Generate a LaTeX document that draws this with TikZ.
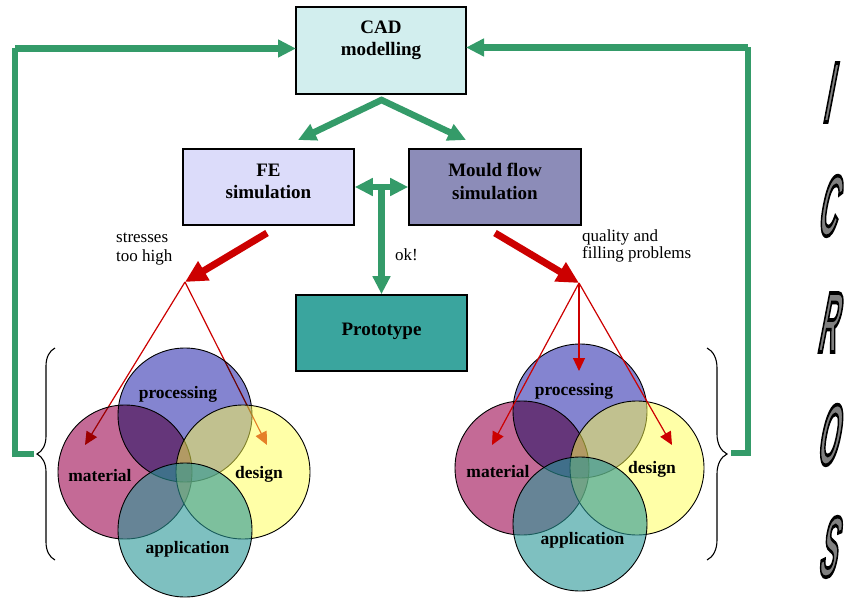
\documentclass[tikz,border=0pt]{standalone}
\usepackage{fontspec}
\usepackage{graphicx}
\setmainfont{Liberation Serif}
\newfontfamily\icfont[FakeStretch=0.78, FakeSlant=0.5]{Liberation Sans}
\usetikzlibrary{arrows.meta,decorations.pathreplacing}
\definecolor{grn}{RGB}{52,155,105}
\definecolor{rd}{RGB}{204,0,0}
\definecolor{cadc}{RGB}{210,238,238}
\definecolor{fec}{RGB}{220,220,250}
\definecolor{mfc}{RGB}{140,140,184}
\definecolor{prc}{RGB}{58,165,158}
\definecolor{cproc}{RGB}{132,132,208}
\definecolor{cmat}{RGB}{196,106,150}
\definecolor{cdes}{RGB}{255,255,80}
\definecolor{capp}{RGB}{40,150,150}
\definecolor{icgray}{RGB}{128,128,128}
\tikzset{
  box/.style={draw=black, line width=1.6pt, inner sep=0pt},
  boxtxt/.style={font=\fontsize{19}{22.5}\selectfont\bfseries, align=center, inner sep=0pt},
  lbl/.style={font=\fontsize{17}{19}\selectfont, align=left, inner sep=0pt},
  circ/.style={circle, draw=black, line width=0.9pt, minimum size=134pt, inner sep=0pt},
  ctxt/.style={font=\fontsize{17.5}{20}\selectfont\bfseries, inner sep=0pt, anchor=base},
  gline/.style={draw=grn, line width=6.5pt, line join=miter},
  garrow/.style={gline, -{Triangle[length=18pt,width=17pt]}},
  garrowboth/.style={gline, {Triangle[length=18pt,width=17pt]}-{Triangle[length=18pt,width=17pt]}},
  rthick/.style={draw=rd, line width=7pt, -{Triangle[length=22pt,width=21pt]}},
  rthin/.style={draw=rd, line width=1.2pt, -{Triangle[length=13pt,width=12pt]}},
  brc/.style={draw=black, line width=1.1pt, decorate, decoration={brace, amplitude=#1}},
  icl/.style={font=\icfont\bfseries\fontsize{33}{33}\selectfont, anchor=base, inner sep=0pt},
}
\newcommand\icglyph[1]{\scalebox{1}[2.6]{\color{icgray}\special{pdf:literal direct 0 0 0 RG 2 Tr 1.4 w}#1}}
\begin{document}
\begin{tikzpicture}[x=1pt,y=-1pt]
\useasboundingbox (0,0) rectangle (848,599);

% boxes
\node[box, fill=cadc, minimum width=170pt, minimum height=87pt] (cad) at (381,50.5) {};
\node[boxtxt] (cadt) at (381,40.5) {CAD\\modelling};
\node[box, fill=fec, minimum width=171pt, minimum height=76pt] (fe) at (268.5,187) {};
\node[boxtxt] (fet) at (268.5,181.5) {FE\\simulation};
\node[box, fill=mfc, minimum width=172pt, minimum height=76pt] (mf) at (495,187) {};
\node[boxtxt] (mft) at (495,181.5) {Mould flow\\simulation};
\node[box, fill=prc, minimum width=171pt, minimum height=76pt] (proto) at (381.5,333) {};
\node[boxtxt] (protot) at (381.5,331) {Prototype};

% green connectors
\coordinate (apex) at (381.5,100);
\coordinate (fein) at (298,140);
\coordinate (mfin) at (466,140);
\draw[garrowboth] (fein) -- (apex) -- (mfin);
\draw[garrowboth] (fe.east) -- (mf.west);
\coordinate (mid) at (381.5,187);
\draw[garrow] (mid) -- (proto.north);
\node[lbl, anchor=base west] (ok) at (395,260) {ok!};

% feedback loops
\coordinate (lb) at (34,454);
\coordinate (lc) at (15,48.5);
\coordinate (cadl) at (296,48.5);
\draw[gline] (lb) -- (15,454) -- (lc);
\draw[garrow] (15,48.5) -- (cadl);
\coordinate (rb) at (731,453);
\coordinate (rc) at (748,47.5);
\coordinate (cadr) at (466,47.5);
\draw[gline] (rb) -- (748,453) -- (rc);
\draw[garrow] (748,47.5) -- (cadr);

% red thick arrows
\coordinate (ltail) at (267,233);
\coordinate (lsrc) at (185,282);
\coordinate (rtail) at (495,233);
\coordinate (rsrc) at (579,283);
\draw[rthick] (ltail) -- (lsrc);
\draw[rthick] (rtail) -- (rsrc);
\node[lbl, anchor=west] (lstress) at (116,249.5) {stresses\\too high};
\node[lbl, anchor=west, font=\fontsize{17}{16.7}\selectfont] (lqual) at (582,246) {quality and\\filling problems};

% left thin arrows (under circles)
\coordinate (lmat) at (85,445);
\coordinate (ldes) at (267,445);
\draw[rthin] (lsrc) -- (lmat);
\draw[rthin] (lsrc) -- (ldes);

% circles
\begin{scope}[blend mode=multiply]
\node[circ, fill=cproc] (lproc) at (185,415) {};
\node[circ, fill=cmat] (lmatc) at (125,472) {};
\node[circ, fill=cproc] (rproc) at (580,411) {};
\node[circ, fill=cmat] (rmatc) at (522,468) {};
\end{scope}
\node[circ, fill=cdes, fill opacity=0.5] (ldesc) at (243,472) {};
\node[circ, fill=cdes, fill opacity=0.5] (rdesc) at (637,468) {};
\node[circ, fill=capp, fill opacity=0.6] (lappc) at (185,530) {};
\node[circ, fill=capp, fill opacity=0.6] (rappc) at (580,524) {};

\node[ctxt] (lproct) at (178,398) {processing};
\node[ctxt] (lmatt) at (100,481) {material};
\node[ctxt] (ldest) at (259,478) {design};
\node[ctxt] (lappt) at (187.5,553) {application};
\node[ctxt] (rproct) at (574,395) {processing};
\node[ctxt] (rmatt) at (498,477) {material};
\node[ctxt] (rdest) at (652,473) {design};
\node[ctxt] (rappt) at (582.5,544) {application};

% right thin arrows (over circles)
\coordinate (rmat) at (492,445);
\coordinate (rpro) at (579,371);
\coordinate (rdes) at (672,445);
\draw[rthin] (rsrc) -- (rmat);
\draw[rthin] (rsrc) -- (rpro);
\draw[rthin] (rsrc) -- (rdes);

% braces
\draw[brc=18pt] (55,560) -- (55,348);
\draw[brc=20pt] (707,348) -- (707,560);

% ICROS
\node[icl] (icI) at (826,122) {\icglyph{I}};
\node[icl] (icC) at (826,235.5) {\icglyph{C}};
\node[icl] (icR) at (826,352) {\icglyph{R}};
\node[icl] (icO) at (826,464.5) {\icglyph{O}};
\node[icl] (icS) at (826,576.5) {\icglyph{S}};
\end{tikzpicture}
\end{document}
